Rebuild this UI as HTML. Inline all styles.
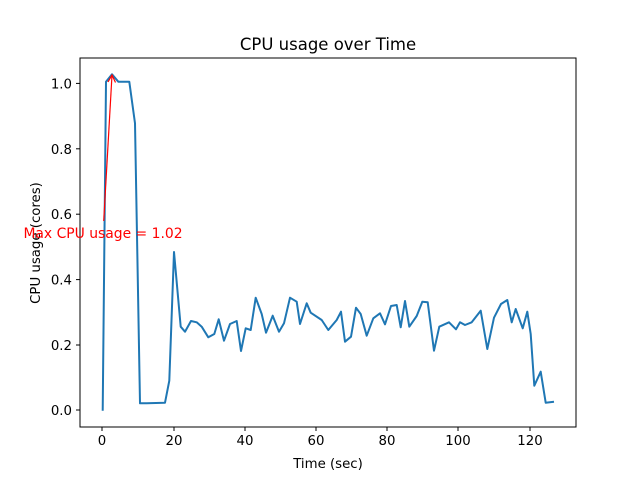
<!DOCTYPE html>
<html><head><meta charset="utf-8"><style>body{margin:0;background:#fff}svg{display:block}text{font-family:"DejaVu Sans","Liberation Sans",sans-serif}</style></head>
<body>
<svg width="640" height="480" viewBox="0 0 640 480" xmlns="http://www.w3.org/2000/svg">
<rect width="640" height="480" fill="#fff"/>
<text x="328" y="50" font-size="16.5" text-anchor="middle">CPU usage over Time</text>
<g stroke="#000" stroke-width="1">
<line x1="102" y1="427" x2="102" y2="431"/><line x1="174" y1="427" x2="174" y2="431"/><line x1="245" y1="427" x2="245" y2="431"/><line x1="316" y1="427" x2="316" y2="431"/><line x1="387" y1="427" x2="387" y2="431"/><line x1="458" y1="427" x2="458" y2="431"/><line x1="530" y1="427" x2="530" y2="431"/>
<line x1="76" y1="410" x2="80" y2="410"/><line x1="76" y1="345" x2="80" y2="345"/><line x1="76" y1="279.6" x2="80" y2="279.6"/><line x1="76" y1="214.2" x2="80" y2="214.2"/><line x1="76" y1="148.8" x2="80" y2="148.8"/><line x1="76" y1="83.4" x2="80" y2="83.4"/>
</g>
<g font-size="13.3" text-anchor="middle">
<text x="102" y="445">0</text><text x="174" y="445">20</text><text x="245" y="445">40</text><text x="316" y="445">60</text><text x="387" y="445">80</text><text x="458" y="445">100</text><text x="530" y="445">120</text>
</g>
<g font-size="13.3" text-anchor="end">
<text x="72" y="415">0.0</text><text x="72" y="350">0.2</text><text x="72" y="284.6">0.4</text><text x="72" y="219.2">0.6</text><text x="72" y="153.8">0.8</text><text x="72" y="88.4">1.0</text>
</g>
<text x="328" y="468" font-size="13.3" text-anchor="middle">Time (sec)</text>
<text transform="translate(40,243) rotate(-90)" font-size="13.3" text-anchor="middle">CPU usage (cores)</text>
<polyline fill="none" stroke="#1f77b4" stroke-width="2" stroke-linejoin="round" points="102.7,410.7 106,81.7 112,74.3 118.3,81.7 129.3,81.7 135,123.3 140,403.3 146.7,403.3 165,402.7 169.3,380.7 174,252 180.7,326.7 185,331.7 191,321 196.7,322.3 201.7,326.7 208.3,337.3 214.3,334 218.7,319.3 224,340.7 230,324 236.7,321 241,351 245.7,328.3 250.7,330 255.7,297.7 261.7,314 266,332.7 272.7,315.7 279,331.7 284,323.3 290,297.7 296.7,301.7 300,324 306.7,303.3 310.7,312.7 321.7,320 328.3,330 336.7,320 341,311.7 345,341.7 351,336.7 356,307.7 360.7,314 366.7,335.7 373.3,318.3 380,313.3 385,324.3 391,306 396.7,305 400.7,327.3 405,301 409.3,326.7 416.7,316 422.3,301.7 427.7,302.3 434,350.7 439.3,326.7 449,322.3 456,329.3 460,322.3 465,325 471.7,322.3 480.7,310.7 487.3,349 494,317.7 501,304 507.3,300 511.7,322.3 515.7,309 522.7,328.3 527.3,311.7 530.7,334 534.3,385.7 540.7,371.7 545.7,402.7 554,401.7"/>
<rect x="80" y="58" width="496" height="369" fill="none" stroke="#000" stroke-width="1"/>
<g stroke="red" stroke-width="1.2" fill="none">
<line x1="103.7" y1="221" x2="112" y2="75"/>
<polyline points="108,82 112,75 115.5,82.5"/>
</g>
<text x="103" y="238" font-size="13.9" fill="red" text-anchor="middle">Max CPU usage = 1.02</text>
</svg>
</body></html>
